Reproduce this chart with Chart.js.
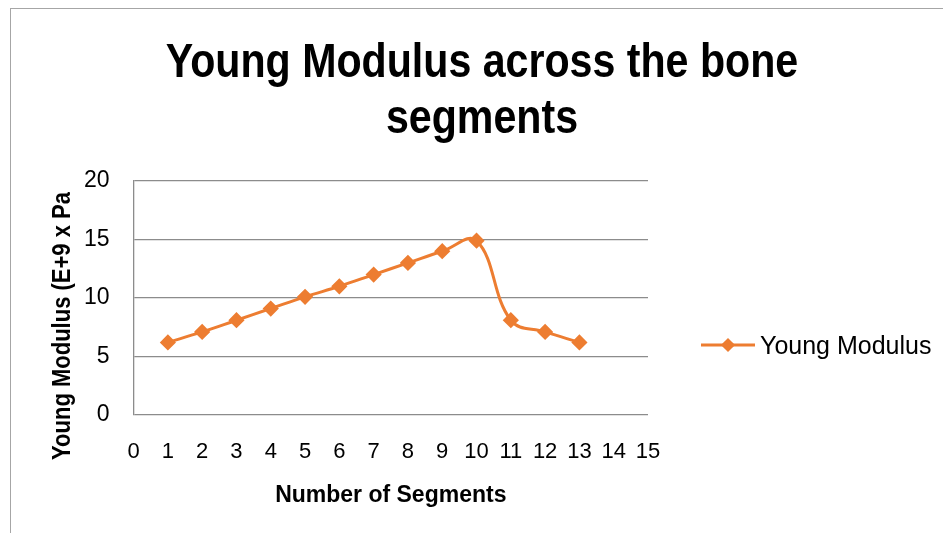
<!DOCTYPE html>
<html><head><meta charset="utf-8">
<script src="https://cdn.jsdelivr.net/npm/chart.js@4.4.1/dist/chart.umd.min.js"></script>
<style>
html,body{margin:0;padding:0;background:#fff;overflow:hidden}
#wrap{position:relative;width:943px;height:533px}
#frame{position:absolute;left:10px;top:8px;width:960px;height:560px;border:1.5px solid #a6a6a6;box-sizing:border-box}
canvas{position:absolute;left:0;top:0}
#legend{position:absolute;left:700px;top:330px;height:30px;display:flex;align-items:center;font-family:"Liberation Sans",sans-serif;font-size:25px;color:#000}
</style></head>
<body><div id="wrap"><div id="frame"></div><canvas id="c" width="943" height="533"></canvas><div id="legend"></div></div>
<script>
const segments = [1,2,3,4,5,6,7,8,9,10,11,12,13];
const youngModulus = [6.2,7.1,8.1,9.1,10.1,11.0,12.0,13.0,14.0,14.9,8.1,7.1,6.2];
const xTicks = [0,1,2,3,4,5,6,7,8,9,10,11,12,13,14,15];
const yTicks = [0,5,10,15,20];
const seriesName = 'Young Modulus';
const titleLines = ['Young Modulus across the bone','segments'];
const xTitle = 'Number of Segments';
const yTitle = 'Young Modulus (E+9 x Pa';
const orange = '#ED7D31';
const fam = '"Liberation Sans",Arial,sans-serif';

function condensed(ctx, text, cx, y, sx){
  ctx.save();
  ctx.translate(cx, y);
  ctx.scale(sx, 1);
  ctx.fillText(text, 0, 0);
  ctx.restore();
}

const textPlugin = {
  id:'texts',
  afterDraw(chart){
    const ctx = chart.ctx;
    ctx.save();
    ctx.fillStyle = '#000';
    ctx.textAlign = 'center';
    ctx.textBaseline = 'alphabetic';
    ctx.font = 'bold 48px ' + fam;
    condensed(ctx, titleLines[0], 482, 77, 0.857);
    condensed(ctx, titleLines[1], 482, 133, 0.857);
    ctx.translate(63, 326);
    ctx.rotate(-Math.PI/2);
    ctx.font = 'bold 25px ' + fam;
    ctx.textBaseline = 'middle';
    condensed(ctx, yTitle, 0, 0, 0.88);
    ctx.restore();
  }
};

function build(){
const chart = new Chart(document.getElementById('c'), {
  type:'line',
  data:{
    datasets:[{
      label:seriesName,
      data:segments.map((s,i)=>({x:s,y:youngModulus[i]})),
      borderColor:orange,
      backgroundColor:orange,
      borderWidth:3,
      tension:0.4,
      pointStyle:'rectRot',
      pointRadius:6,
      pointHoverRadius:6,
      fill:false
    }]
  },
  options:{
    responsive:false,
    animation:false,
    layout:{padding:{left:60,right:295,top:181,bottom:20}},
    plugins:{
      legend:{display:false},
      tooltip:{enabled:false},
      title:{display:false}
    },
    scales:{
      x:{
        type:'linear',min:0,max:15,
        afterBuildTicks(s){s.ticks = xTicks.map(v=>({value:v}));},
        grid:{display:false,drawTicks:false},
        border:{display:false},
        ticks:{color:'#000',font:{family:fam,size:22},padding:24,maxRotation:0,autoSkip:false},
        title:{display:true,text:xTitle,color:'#000',font:{family:fam,size:23,weight:'bold'},padding:{top:-8,bottom:4}}
      },
      y:{
        min:0,max:20,
        afterBuildTicks(s){s.ticks = yTicks.map(v=>({value:v}));},
        grid:{color:'#8c8c8c',lineWidth:1.3,drawTicks:false},
        border:{display:true,color:'#8c8c8c',width:1.3},
        ticks:{color:'#000',font:{family:fam,size:23},padding:24}
      }
    }
  },
  plugins:[textPlugin]
});
const lg = document.getElementById('legend');
const ds = chart.data.datasets[0];
lg.innerHTML = '<svg width="56" height="20" style="margin-right:4px"><line x1="1" y1="10" x2="55" y2="10" stroke="'+ds.borderColor+'" stroke-width="3"/><rect x="23" y="5" width="10" height="10" fill="'+ds.borderColor+'" transform="rotate(45 28 10)"/></svg><span>'+ds.label+'</span>';
}
build();
</script></body></html>
